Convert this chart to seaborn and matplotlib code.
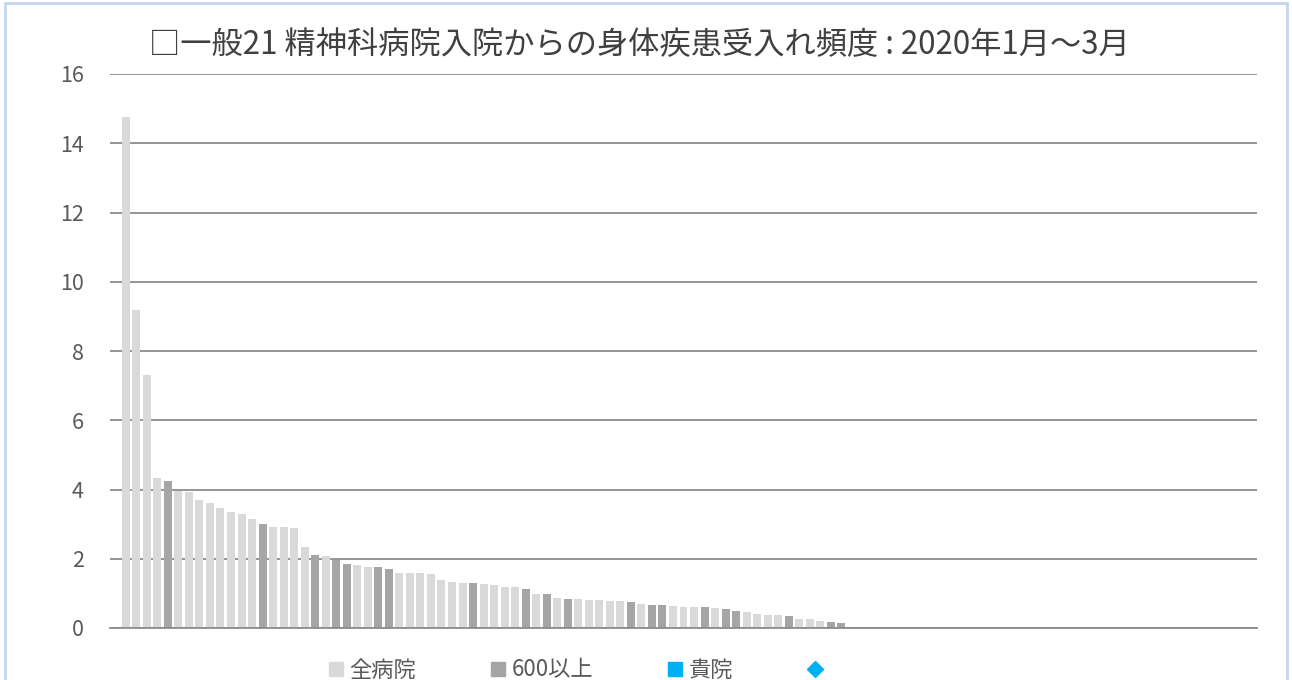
import matplotlib
matplotlib.use("Agg")
import matplotlib.pyplot as plt
import seaborn as sns
import pandas as pd
from matplotlib.lines import Line2D
from matplotlib.patches import Rectangle

# values (sorted, descending)
values = [14.76, 9.17, 7.30, 4.33, 4.24, 3.97, 3.93, 3.70, 3.61, 3.46,
          3.34, 3.28, 3.15, 2.99, 2.91, 2.91, 2.90, 2.34, 2.11, 2.09,
          1.95, 1.85, 1.83, 1.76, 1.75, 1.70, 1.60, 1.58, 1.58, 1.56,
          1.39, 1.33, 1.31, 1.31, 1.28, 1.24, 1.19, 1.17, 1.14, 0.99,
          0.99, 0.87, 0.84, 0.83, 0.81, 0.81, 0.79, 0.78, 0.74, 0.68,
          0.67, 0.66, 0.63, 0.62, 0.62, 0.62, 0.59, 0.56, 0.50, 0.47,
          0.39, 0.38, 0.375, 0.34, 0.27, 0.27, 0.19, 0.16, 0.14]
# L = 全病院, D = 600以上
groups_code = "LLLLDLLLLLLLLDLLLLDLDDLLDDLLLLLLLDLLLLDLDLDLLLLLDLDDLLLDLDDLLLLDLLLDD"
n_slots = 109  # category slots on the x axis (first one and the tail are empty)

group_names = {"L": "全病院", "D": "600以上"}
groups = [group_names[c] for c in groups_code]
slot_labels = [f"h{i:03d}" for i in range(n_slots)]
bar_labels = slot_labels[1:1 + len(values)]

df = pd.DataFrame({"slot": bar_labels, "value": values, "group": groups})

colors = {"全病院": "#D9D9D9", "600以上": "#A5A5A5"}
blue = "#00B0F0"
text_col = "#595959"

sns.set_theme(style="white")
plt.rcParams["font.family"] = ["Noto Sans CJK JP", "DejaVu Sans"]

fig = plt.figure(figsize=(12.92, 6.8), dpi=100)
ax = fig.add_axes([110 / 1292, 1 - 628 / 680, (1257 - 110) / 1292, (628 - 74) / 680])

sns.barplot(data=df, x="slot", y="value", hue="group", order=slot_labels,
            hue_order=["全病院", "600以上"], palette=colors, width=0.76,
            dodge=False, ax=ax, legend=False, linewidth=0, saturation=1)

ax.set_ylim(0, 16)
ax.set_yticks(range(0, 17, 2))
ax.set_xlim(-0.5, n_slots - 0.5)
ax.set_xticks([])
ax.set_xlabel("")
ax.set_ylabel("")
ax.yaxis.grid(True, color="#8C8C8C", linewidth=1.3)
ax.set_axisbelow(True)
for s in ["left", "right", "top"]:
    ax.spines[s].set_visible(False)
ax.spines["bottom"].set_color("#8C8C8C")
ax.spines["bottom"].set_linewidth(1.3)
ax.tick_params(axis="y", length=0, pad=19, labelsize=15.5, labelcolor=text_col)

fig.text(0.4946, 1 - 45 / 680, "□一般21 精神科病院入院からの身体疾患受入れ頻度 : 2020年1月～3月",
         ha="center", va="center", fontsize=22.5, color="#404040")

handles = [
    Line2D([], [], marker="s", linestyle="", color=colors["全病院"], markersize=10, label="全病院"),
    Line2D([], [], marker="s", linestyle="", color=colors["600以上"], markersize=10, label="600以上"),
    Line2D([], [], marker="s", linestyle="", color=blue, markersize=10, label="貴院"),
    Line2D([], [], marker="D", linestyle="", color=blue, markersize=8, label=" "),
]
fig.legend(handles=handles, loc="center left", bbox_to_anchor=(327 / 1292, 1 - 670 / 680), ncol=4,
           frameon=False, fontsize=16, labelcolor=text_col, handlelength=0.8,
           handletextpad=0.2, columnspacing=3.3, borderpad=0, borderaxespad=0)

# chart border (bottom edge is off the picture)
fig.patches.append(Rectangle((5 / 1292, -0.1), 1282 / 1292, 1.1 - 3 / 680,
                             transform=fig.transFigure, fill=False,
                             edgecolor="#C5D6EA", linewidth=2))

fig.savefig("out.png", dpi=100)
